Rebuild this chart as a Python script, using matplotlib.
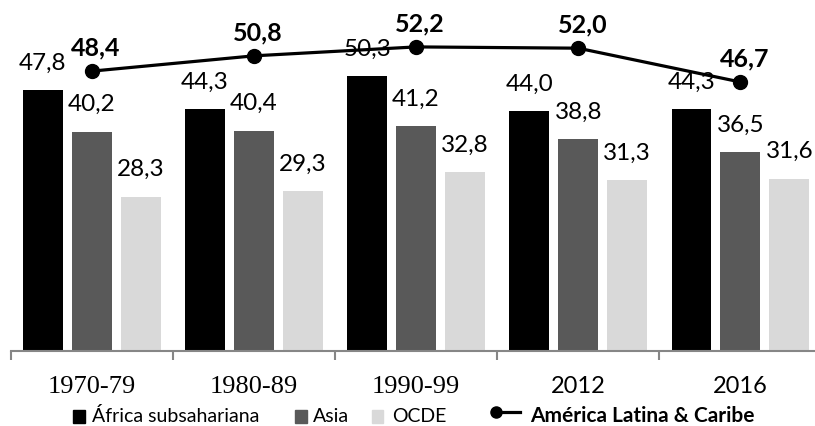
import matplotlib.pyplot as plt
import numpy as np
from matplotlib.patches import Rectangle
from matplotlib.lines import Line2D

# datos
periodos = ["1970-79", "1980-89", "1990-99", "2012", "2016"]
africa = [47.8, 44.3, 50.3, 44.0, 44.3]
asia = [40.2, 40.4, 41.2, 38.8, 36.5]
ocde = [28.3, 29.3, 32.8, 31.3, 31.6]
america_latina = [48.4, 50.8, 52.2, 52.0, 46.7]

sans = "Lato"
serif = "Liberation Serif"

W, H = 815, 427
fig = plt.figure(figsize=(W / 100, H / 100), dpi=100)
ax = fig.add_axes([10.7 / W, 75 / H, 810.7 / W, 352 / H])

x = np.arange(len(periodos))
ancho = 0.245
paso = 0.302
series = [(africa, "#000000", -paso), (asia, "#595959", 0), (ocde, "#d9d9d9", paso)]
for vals, color, dx in series:
    barras = ax.bar(x + dx, vals, ancho, color=color)
    for b, v in zip(barras, vals):
        ax.annotate(f"{v:.1f}".replace(".", ","), (b.get_x() + b.get_width() / 2, v),
                    xytext=(0, 20), textcoords="offset points",
                    ha="center", va="center", fontsize=17.5, family=sans)

ax.set_xlim(-0.5, 4.5)
ax.set_ylim(0, 64.5)
for s in ["top", "left", "right"]:
    ax.spines[s].set_visible(False)
ax.spines["bottom"].set_color("#868686")
ax.spines["bottom"].set_linewidth(1.5)
ax.set_yticks([])
ax.set_xticks(np.arange(-0.5, 5, 1))
ax.set_xticklabels([])
ax.tick_params(axis="x", length=6.5, width=1.5, color="#868686")

for i, p in enumerate(periodos):
    fam = serif if "-" in p else sans
    ax.annotate(p, (i, 0), xycoords=("data", "axes fraction"),
                xytext=(0, -25), textcoords="offset points",
                ha="center", va="center", fontsize=19 if fam == serif else 17,
                family=fam)

# linea en eje secundario
ax2 = ax.twinx()
ax2.set_ylim(4.53, 59.71)
ax2.axis("off")
ax2.plot(x, america_latina, color="black", lw=2.3, marker="o", markersize=10)
for xi, v in zip(x, america_latina):
    ax2.annotate(f"{v:.1f}".replace(".", ","), (xi, v), xytext=(3, 17.5),
                 textcoords="offset points", ha="center", va="center",
                 fontsize=18, fontweight="bold", family=sans)

# leyenda manual
def fy(py):
    return 1 - py / H

base = fy(422.5)
items = [(73.3, "#000000", 91.7, "África subsahariana"),
         (295, "#595959", 313, "Asia"),
         (371.7, "#d9d9d9", 391.7, "OCDE")]
for sx, color, tx, txt in items:
    fig.add_artist(Rectangle((sx / W, fy(424)), 11.5 / W, 13 / H,
                             transform=fig.transFigure, color=color))
    fig.text(tx / W, base, txt, fontsize=14, family=sans, va="baseline")
fig.add_artist(Line2D([496 / W, 520 / W], [fy(413), fy(413)], color="black",
                      lw=2.3, transform=fig.transFigure))
fig.add_artist(Line2D([496 / W], [fy(413)], color="black", marker="o",
                      markersize=8, transform=fig.transFigure))
fig.text(530 / W, base, "América Latina & Caribe", fontsize=15, family=sans,
         fontweight="bold", va="baseline")

fig.savefig("out.png", dpi=100)
